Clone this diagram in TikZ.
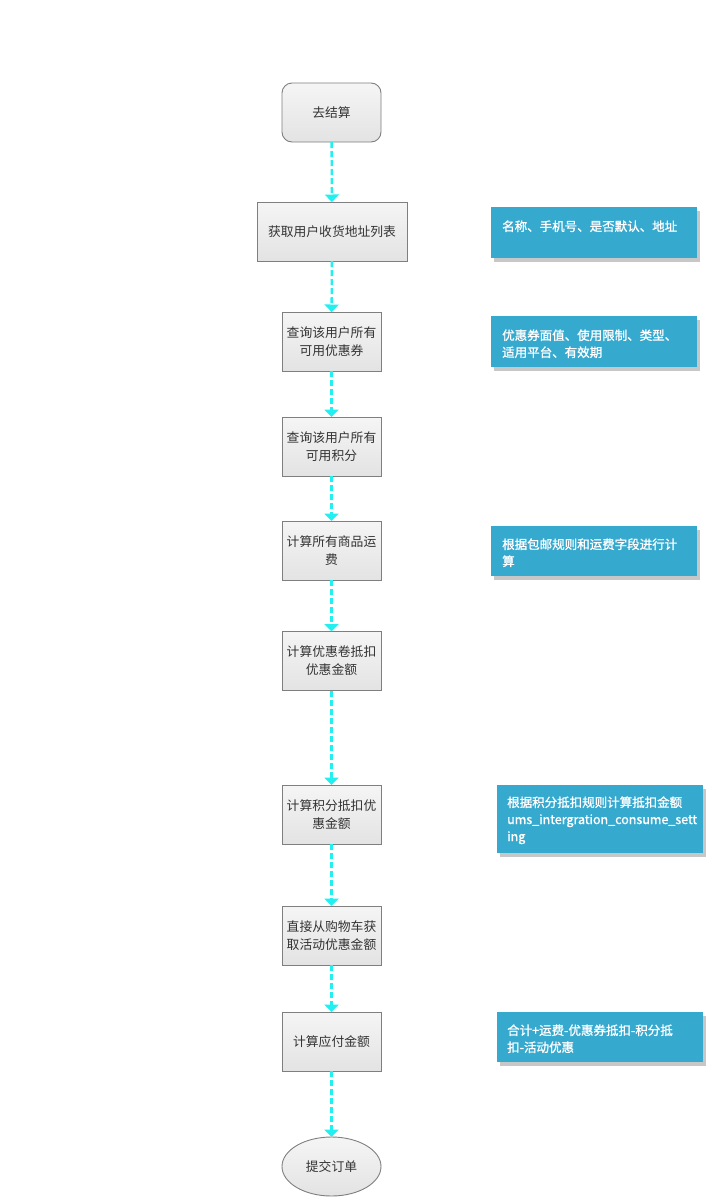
\documentclass[tikz,border=0pt]{standalone}
\usepackage{fontspec}
\setmainfont{Noto Sans CJK SC}
\newfontfamily\notefont[FakeBold=1.2]{Noto Sans CJK SC}
\usetikzlibrary{arrows.meta,shapes.geometric,shadows}
\definecolor{boxborder}{HTML}{7F7F7F}
\definecolor{boxtop}{HTML}{F5F5F5}
\definecolor{boxbottom}{HTML}{E3E3E3}
\definecolor{boxtext}{HTML}{333333}
\definecolor{flowcyan}{HTML}{22F0F0}
\definecolor{noteblue}{HTML}{36A9CF}
\tikzset{
  stepbox/.style={draw=boxborder, line width=0.9pt, top color=boxtop, bottom color=boxbottom,
    minimum width=99pt, minimum height=59pt, inner sep=0pt, outer sep=0pt,
    align=center, text=boxtext, font=\fontsize{12.8}{18}\selectfont},
  startbox/.style={stepbox, rounded corners=10pt},
  widebox/.style={stepbox, minimum width=150pt},
  endbox/.style={stepbox, ellipse},
  flow/.style={draw=flowcyan, line width=2.4pt, dash pattern=on 6pt off 3pt,
    -{Triangle[width=14pt,length=7.5pt,fill=flowcyan]}},
  notebox/.style={fill=noteblue, draw=none, anchor=north west, inner sep=0pt,
    minimum height=51pt, minimum width=206pt,
    drop shadow={shadow xshift=3pt, shadow yshift=-4pt, fill=black, opacity=0.22}},
  notetext/.style={anchor=base west, inner sep=0pt, text=white, align=left,
    font=\notefont\fontsize{12.5}{17}\selectfont}
}
\begin{document}
\begin{tikzpicture}[x=1pt,y=-1pt]
\useasboundingbox[fill=white] (0,0) rectangle (714,1197);

% main flow
\node[startbox] (s0) at (331.5,112.5) {去结算};
\node[widebox]  (s1) at (332,231.5) {获取用户收货地址列表};
\node[stepbox]  (s2) at (331.5,341.5) {查询该用户所有\\可用优惠券};
\node[stepbox]  (s3) at (331.5,446.5) {查询该用户所有\\可用积分};
\node[stepbox]  (s4) at (331.5,550.5) {计算所有商品运\\费};
\node[stepbox]  (s5) at (331.5,661) {计算优惠卷抵扣\\优惠金额};
\node[stepbox]  (s6) at (331.5,814.5) {计算积分抵扣优\\惠金额};
\node[stepbox]  (s7) at (331.5,935.5) {直接从购物车获\\取活动优惠金额};
\node[stepbox]  (s8) at (331.5,1041.5) {计算应付金额};
\node[endbox, minimum height=59pt] (s9) at (331.5,1166.5) {提交订单};

\draw[flow] (s0) -- (s1);
\draw[flow] (s1) -- (s2);
\draw[flow] (s2) -- (s3);
\draw[flow] (s3) -- (s4);
\draw[flow] (s4) -- (s5);
\draw[flow] (s5) -- (s6);
\draw[flow] (s6) -- (s7);
\draw[flow] (s7) -- (s8);
\draw[flow] (s8) -- (s9);

% side notes (text anchored at the baseline of its last line)
\node[notebox] (n1) at (491,207) {};
\node[notetext] (t1) at ([xshift=11pt,yshift=-24pt]n1.north west) {名称、手机号、是否默认、地址};

\node[notebox] (n2) at (491,316) {};
\node[notetext] (t2) at ([xshift=11pt,yshift=-41pt]n2.north west) {优惠券面值、使用限制、类型、\\适用平台、有效期};

\node[notebox, minimum height=50pt] (n3) at (491,526) {};
\node[notetext] (t3) at ([xshift=11pt,yshift=-40pt]n3.north west) {根据包邮规则和运费字段进行计\\算};

\node[notebox, minimum height=68pt] (n4) at (497,785) {};
\node[notetext] (t4) at ([xshift=10pt,yshift=-56pt]n4.north west) {根据积分抵扣规则计算抵扣金额\\ums\_intergration\_consume\_sett\\ing};

\node[notebox, minimum height=50pt] (n5) at (497,1012) {};
\node[notetext] (t5) at ([xshift=10pt,yshift=-40pt]n5.north west) {合计+运费-优惠券抵扣-积分抵\\扣-活动优惠};
\end{tikzpicture}
\end{document}
